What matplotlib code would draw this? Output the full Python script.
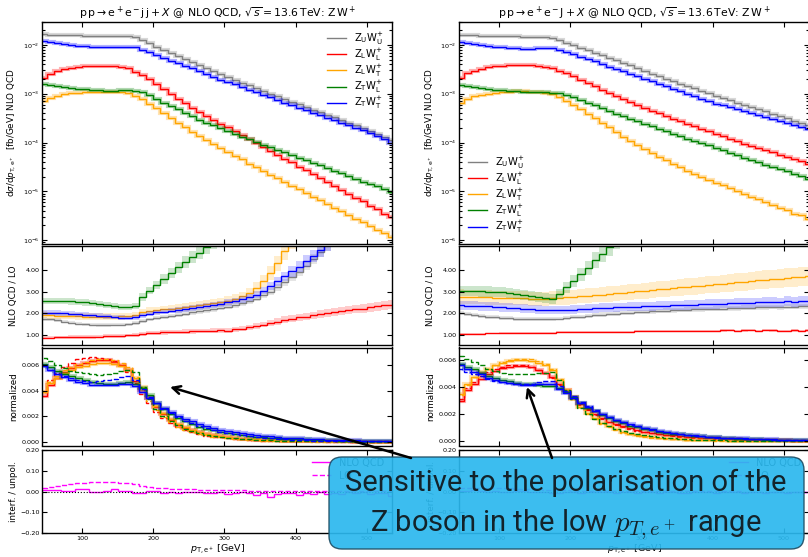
import numpy as np
import matplotlib.pyplot as plt
from matplotlib.patches import FancyBboxPatch

# bin edges in p_T,e+ [GeV], 10 GeV bins
pt_edges = list(range(40, 550, 10))

pol_labels = [r'$\mathrm{Z_{U}W_{U}^{+}}$', r'$\mathrm{Z_{L}W_{L}^{+}}$', r'$\mathrm{Z_{L}W_{T}^{+}}$',
              r'$\mathrm{Z_{T}W_{L}^{+}}$', r'$\mathrm{Z_{T}W_{T}^{+}}$']
pol_colors = ['gray', 'red', 'orange', 'green', 'blue']

# ---- left: e+ e- j j ----
nlo_jj_uu = [1.65e-2, 1.63e-2, 1.61e-2, 1.59e-2, 1.58e-2, 1.57e-2, 1.56e-2, 1.55e-2, 1.55e-2, 1.55e-2,
             1.54e-2, 1.53e-2, 1.50e-2, 1.44e-2, 1.27e-2, 1.08e-2, 9.2e-3, 7.9e-3, 6.8e-3, 5.9e-3,
             5.1e-3, 4.4e-3, 3.8e-3, 3.3e-3, 2.9e-3, 2.5e-3, 2.2e-3, 1.9e-3, 1.7e-3, 1.48e-3,
             1.30e-3, 1.15e-3, 1.0e-3, 8.9e-4, 7.8e-4, 6.9e-4, 6.1e-4, 5.4e-4, 4.7e-4, 4.2e-4,
             3.7e-4, 3.3e-4, 2.9e-4, 2.55e-4, 2.25e-4, 2.0e-4, 1.75e-4, 1.52e-4, 1.3e-4, 1.12e-4]
nlo_jj_ll = [2.1e-3, 2.6e-3, 2.95e-3, 3.2e-3, 3.4e-3, 3.55e-3, 3.65e-3, 3.72e-3, 3.75e-3, 3.75e-3,
             3.7e-3, 3.55e-3, 3.3e-3, 2.82e-3, 2.4e-3, 2.0e-3, 1.58e-3, 1.26e-3, 1.0e-3, 7.9e-4,
             6.5e-4, 5.2e-4, 4.3e-4, 3.5e-4, 2.95e-4, 2.45e-4, 2.04e-4, 1.7e-4, 1.41e-4, 1.17e-4,
             9.8e-5, 8.1e-5, 6.8e-5, 5.6e-5, 4.7e-5, 3.9e-5, 3.2e-5, 2.7e-5, 2.24e-5, 1.86e-5,
             1.55e-5, 1.29e-5, 1.07e-5, 8.9e-6, 7.4e-6, 6.2e-6, 5.1e-6, 4.3e-6, 3.5e-6, 3.0e-6]
nlo_jj_lt = [7.1e-4, 8.3e-4, 9.1e-4, 9.8e-4, 1.02e-3, 1.06e-3, 1.08e-3, 1.10e-3, 1.11e-3, 1.11e-3,
             1.10e-3, 1.07e-3, 1.02e-3, 9.1e-4, 7.8e-4, 6.3e-4, 5.0e-4, 4.0e-4, 3.16e-4, 2.5e-4,
             2.04e-4, 1.66e-4, 1.35e-4, 1.12e-4, 9.3e-5, 7.8e-5, 6.5e-5, 5.4e-5, 4.5e-5, 3.7e-5,
             3.1e-5, 2.6e-5, 2.2e-5, 1.84e-5, 1.55e-5, 1.3e-5, 1.1e-5, 9.2e-6, 7.8e-6, 6.5e-6,
             5.5e-6, 4.6e-6, 3.9e-6, 3.3e-6, 2.75e-6, 2.3e-6, 1.95e-6, 1.64e-6, 1.38e-6, 1.16e-6]
nlo_jj_tl = [1.55e-3, 1.48e-3, 1.41e-3, 1.35e-3, 1.30e-3, 1.26e-3, 1.23e-3, 1.20e-3, 1.17e-3, 1.16e-3,
             1.16e-3, 1.17e-3, 1.19e-3, 1.16e-3, 1.07e-3, 9.3e-4, 7.8e-4, 6.6e-4, 5.6e-4, 4.8e-4,
             4.1e-4, 3.5e-4, 2.95e-4, 2.57e-4, 2.24e-4, 1.95e-4, 1.7e-4, 1.51e-4, 1.32e-4, 1.17e-4,
             1.02e-4, 9.1e-5, 8.1e-5, 7.1e-5, 6.3e-5, 5.5e-5, 4.9e-5, 4.4e-5, 3.8e-5, 3.4e-5,
             2.95e-5, 2.6e-5, 2.35e-5, 2.04e-5, 1.82e-5, 1.58e-5, 1.41e-5, 1.26e-5, 1.1e-5, 9.8e-6]
nlo_jj_tt = [1.22e-2, 1.15e-2, 1.09e-2, 1.04e-2, 1.0e-2, 9.7e-3, 9.4e-3, 9.2e-3, 9.1e-3, 9.1e-3,
             9.2e-3, 9.3e-3, 9.3e-3, 9.0e-3, 8.0e-3, 7.1e-3, 6.3e-3, 5.5e-3, 4.8e-3, 4.2e-3,
             3.7e-3, 3.3e-3, 2.9e-3, 2.55e-3, 2.25e-3, 1.95e-3, 1.75e-3, 1.55e-3, 1.37e-3, 1.2e-3,
             1.07e-3, 9.5e-4, 8.4e-4, 7.5e-4, 6.6e-4, 5.9e-4, 5.2e-4, 4.6e-4, 4.1e-4, 3.65e-4,
             3.25e-4, 2.9e-4, 2.55e-4, 2.25e-4, 2.0e-4, 1.78e-4, 1.55e-4, 1.37e-4, 1.2e-4, 9.8e-5]

# NLO QCD / LO
k_jj_uu = [1.75, 1.72, 1.68, 1.62, 1.57, 1.53, 1.50, 1.48, 1.46, 1.46, 1.47, 1.48, 1.50, 1.55,
           1.65, 1.72, 1.78, 1.84, 1.89, 1.94, 1.99, 2.04, 2.09, 2.14, 2.19, 2.25,
           2.31, 2.38, 2.46, 2.56, 2.68, 2.83, 3.00, 3.20, 3.42, 3.66,
           3.92, 4.20, 4.50, 4.82, 5.15, 5.5, 5.85, 6.2, 6.6, 7.0, 7.4, 7.8, 8.2, 8.6]
k_jj_ll = [0.88, 0.88, 0.89, 0.89, 0.90, 0.90, 0.91, 0.92, 0.93, 0.94, 0.95, 0.96, 0.98, 1.00,
           1.04, 1.08, 1.10, 1.12, 1.14, 1.15, 1.16, 1.17, 1.18, 1.19, 1.20, 1.22,
           1.20, 1.26, 1.30, 1.35, 1.42, 1.48, 1.55, 1.62, 1.70, 1.76,
           1.82, 1.84, 1.90, 1.96, 2.00, 2.05, 2.10, 2.14, 2.20, 2.22, 2.28, 2.32, 2.37, 2.40]
k_jj_lt = [1.93, 1.91, 1.89, 1.88, 1.87, 1.86, 1.85, 1.85, 1.85, 1.85, 1.85, 1.86, 1.88, 1.92,
           2.05, 2.10, 2.14, 2.18, 2.22, 2.26, 2.30, 2.34, 2.38, 2.42, 2.47, 2.52,
           2.58, 2.67, 2.78, 2.95, 3.18, 3.50, 3.85, 4.30, 4.85, 5.4,
           6.0, 6.6, 7.2, 7.8, 8.4, 9.0, 9.6, 10.2, 10.8, 11.4, 12.0, 12.6, 13.2, 13.8]
k_jj_tl = [2.57, 2.57, 2.57, 2.56, 2.55, 2.53, 2.50, 2.47, 2.43, 2.39, 2.35, 2.31, 2.30, 2.33,
           2.75, 3.05, 3.30, 3.58, 3.85, 4.12, 4.36, 4.58, 4.80, 5.05, 5.3, 5.6,
           5.9, 6.2, 6.5, 6.9, 7.3, 7.7, 8.1, 8.6, 9.1, 9.6,
           10.1, 10.7, 11.3, 11.9, 12.5, 13.1, 13.8, 14.5, 15.2, 15.9, 16.6, 17.3, 18.0, 18.8]
k_jj_tt = [2.03, 2.02, 2.01, 2.00, 1.98, 1.96, 1.94, 1.92, 1.89, 1.86, 1.83, 1.80, 1.79, 1.82,
           1.92, 1.99, 2.04, 2.08, 2.12, 2.16, 2.20, 2.24, 2.28, 2.32, 2.37, 2.43,
           2.50, 2.56, 2.64, 2.74, 2.86, 3.05, 3.25, 3.47, 3.70, 3.93,
           4.15, 4.40, 4.65, 4.90, 5.2, 5.5, 5.8, 6.1, 6.4, 6.7, 7.0, 7.3, 7.6, 7.9]
band_jj = [0.05, 0.09, 0.08, 0.06, 0.06]

# interference / unpolarised
int_jj_nlo = [0.008, 0.008, 0.006, 0.003, 0.003, 0.012, 0.012, -0.002, -0.004, 0.003,
              0.010, 0.004, 0.003, -0.008, -0.006, 0.002, 0.003, -0.007, -0.004, -0.005,
              -0.003, -0.004, -0.002, -0.006, -0.005, -0.004, -0.012, -0.005, -0.003, -0.008,
              -0.019, -0.006, -0.027, -0.010, -0.008, -0.006, -0.018, -0.007, -0.010, -0.004,
              -0.012, -0.006, -0.010, -0.003, -0.008, -0.004, -0.012, -0.005, -0.006, -0.020]
int_jj_lo = [0.017, 0.022, 0.028, 0.033, 0.037, 0.040, 0.042, 0.044, 0.045, 0.046,
             0.045, 0.043, 0.040, 0.035, 0.028, 0.022, 0.018, 0.016, 0.014, 0.012,
             0.011, 0.010, 0.009, 0.008, 0.007, 0.006, 0.006, 0.005, 0.005, 0.004,
             0.004, 0.004, 0.003, 0.003, 0.003, 0.003, 0.003, 0.002, 0.002, 0.002,
             0.002, 0.002, 0.002, 0.001, 0.001, 0.001, 0.001, 0.001, 0.001, 0.001]

# ---- right: e+ e- J ----
nlo_J_uu = [1.60e-2, 1.58e-2, 1.57e-2, 1.55e-2, 1.53e-2, 1.51e-2, 1.51e-2, 1.50e-2, 1.50e-2, 1.48e-2,
            1.48e-2, 1.48e-2, 1.45e-2, 1.38e-2, 1.26e-2, 1.12e-2, 1.0e-2, 8.8e-3, 7.8e-3, 6.9e-3,
            6.2e-3, 5.5e-3, 4.9e-3, 4.3e-3, 3.8e-3, 3.4e-3, 2.95e-3, 2.6e-3, 2.35e-3, 2.04e-3,
            1.82e-3, 1.62e-3, 1.45e-3, 1.29e-3, 1.15e-3, 1.02e-3, 9.1e-4, 8.1e-4, 7.4e-4, 6.6e-4,
            5.9e-4, 5.4e-4, 4.8e-4, 4.4e-4, 3.9e-4, 3.5e-4, 3.16e-4, 2.8e-4, 2.57e-4, 2.3e-4]
nlo_J_ll = [2.1e-3, 2.63e-3, 2.95e-3, 3.24e-3, 3.47e-3, 3.63e-3, 3.76e-3, 3.85e-3, 3.9e-3, 3.9e-3,
            3.85e-3, 3.7e-3, 3.55e-3, 3.3e-3, 2.95e-3, 2.63e-3, 2.3e-3, 1.95e-3, 1.66e-3, 1.41e-3,
            1.2e-3, 1.02e-3, 8.9e-4, 7.8e-4, 6.8e-4, 5.9e-4, 5.1e-4, 4.5e-4, 4.0e-4, 3.5e-4,
            3.1e-4, 2.7e-4, 2.4e-4, 2.14e-4, 1.9e-4, 1.7e-4, 1.51e-4, 1.35e-4, 1.2e-4, 1.07e-4,
            9.5e-5, 8.5e-5, 7.8e-5, 6.9e-5, 6.3e-5, 5.6e-5, 5.1e-5, 4.6e-5, 4.2e-5, 3.7e-5]
nlo_J_lt = [6.5e-4, 7.9e-4, 8.9e-4, 9.5e-4, 1.0e-3, 1.05e-3, 1.08e-3, 1.11e-3, 1.12e-3, 1.12e-3,
            1.11e-3, 1.08e-3, 1.05e-3, 9.8e-4, 8.5e-4, 7.1e-4, 5.9e-4, 4.8e-4, 3.9e-4, 3.16e-4,
            2.57e-4, 2.1e-4, 1.66e-4, 1.32e-4, 1.07e-4, 8.7e-5, 7.2e-5, 6.0e-5, 5.0e-5, 4.3e-5,
            3.6e-5, 3.1e-5, 2.6e-5, 2.3e-5, 2.0e-5, 1.74e-5, 1.51e-5, 1.32e-5, 1.15e-5, 1.0e-5,
            8.7e-6, 7.6e-6, 6.8e-6, 5.9e-6, 5.2e-6, 4.6e-6, 4.1e-6, 3.5e-6, 3.2e-6, 2.75e-6]
nlo_J_tl = [1.48e-3, 1.43e-3, 1.38e-3, 1.32e-3, 1.26e-3, 1.22e-3, 1.17e-3, 1.15e-3, 1.12e-3, 1.11e-3,
            1.10e-3, 1.08e-3, 1.07e-3, 1.06e-3, 1.02e-3, 9.5e-4, 8.5e-4, 7.4e-4, 6.5e-4, 5.75e-4,
            5.1e-4, 4.5e-4, 3.9e-4, 3.5e-4, 3.0e-4, 2.7e-4, 2.4e-4, 2.14e-4, 1.9e-4, 1.7e-4,
            1.51e-4, 1.35e-4, 1.2e-4, 1.07e-4, 9.8e-5, 8.7e-5, 7.8e-5, 6.9e-5, 6.2e-5, 5.5e-5,
            4.9e-5, 4.4e-5, 4.0e-5, 3.5e-5, 3.2e-5, 2.9e-5, 2.6e-5, 2.3e-5, 2.04e-5, 1.82e-5]
nlo_J_tt = [1.135e-2, 1.08e-2, 1.035e-2, 1.0e-2, 9.5e-3, 9.2e-3, 8.9e-3, 8.7e-3, 8.5e-3, 8.4e-3,
            8.4e-3, 8.5e-3, 8.6e-3, 8.5e-3, 7.9e-3, 7.2e-3, 6.5e-3, 5.75e-3, 5.1e-3, 4.6e-3,
            4.1e-3, 3.6e-3, 3.2e-3, 2.9e-3, 2.57e-3, 2.3e-3, 2.04e-3, 1.82e-3, 1.6e-3, 1.41e-3,
            1.26e-3, 1.12e-3, 1.0e-3, 8.9e-4, 7.9e-4, 7.1e-4, 6.3e-4, 5.75e-4, 5.25e-4, 4.8e-4,
            4.4e-4, 4.0e-4, 3.6e-4, 3.3e-4, 3.0e-4, 2.75e-4, 2.5e-4, 2.3e-4, 2.1e-4, 1.9e-4]

k_J_uu = [2.00, 1.97, 1.93, 1.89, 1.85, 1.82, 1.79, 1.77, 1.75, 1.74, 1.73, 1.73, 1.73, 1.74,
          1.76, 1.79, 1.82, 1.85, 1.88, 1.91, 1.94, 1.97, 1.99, 2.01, 2.03, 2.05,
          2.07, 2.09, 2.11, 2.12, 2.13, 2.15, 2.16, 2.18, 2.19, 2.20,
          2.21, 2.22, 2.23, 2.24, 2.25, 2.25, 2.27, 2.28, 2.29, 2.27, 2.31, 2.30, 2.33, 2.32]
k_J_ll = [1.05, 1.05, 1.06, 1.06, 1.07, 1.07, 1.08, 1.08, 1.09, 1.09, 1.10, 1.10, 1.11, 1.11,
          1.12, 1.12, 1.13, 1.13, 1.14, 1.14, 1.15, 1.15, 1.16, 1.16, 1.16, 1.17,
          1.17, 1.17, 1.18, 1.18, 1.18, 1.19, 1.19, 1.19, 1.20, 1.20,
          1.20, 1.21, 1.23, 1.20, 1.21, 1.22, 1.20, 1.22, 1.21, 1.19, 1.17, 1.21, 1.20, 1.21]
k_J_lt = [2.77, 2.76, 2.75, 2.74, 2.73, 2.72, 2.71, 2.70, 2.69, 2.69, 2.68, 2.68, 2.68, 2.69,
          2.71, 2.73, 2.76, 2.79, 2.81, 2.84, 2.86, 2.89, 2.92, 2.95, 2.98, 3.01,
          3.04, 3.07, 3.10, 3.13, 3.16, 3.19, 3.22, 3.25, 3.28, 3.31,
          3.34, 3.37, 3.40, 3.43, 3.46, 3.49, 3.52, 3.55, 3.58, 3.60, 3.63, 3.66, 3.68, 3.71]
k_J_tl = [3.02, 3.02, 3.02, 3.01, 3.00, 2.99, 2.97, 2.94, 2.90, 2.86, 2.81, 2.75, 2.70, 2.66,
          2.90, 3.20, 3.50, 3.80, 4.10, 4.45, 4.75, 5.05, 5.4, 5.7, 6.0, 6.4,
          6.8, 7.2, 7.6, 8.0, 8.5, 9.0, 9.5, 10.0, 10.5, 11.1,
          11.7, 12.3, 12.9, 13.5, 14.1, 14.7, 15.3, 15.9, 16.5, 17.1, 17.7, 18.3, 18.9, 19.5]
k_J_tt = [2.36, 2.35, 2.34, 2.33, 2.32, 2.30, 2.28, 2.26, 2.24, 2.22, 2.20, 2.17, 2.15, 2.14,
          2.14, 2.15, 2.17, 2.19, 2.21, 2.23, 2.25, 2.26, 2.28, 2.29, 2.30, 2.31,
          2.32, 2.33, 2.34, 2.35, 2.36, 2.37, 2.39, 2.40, 2.41, 2.43,
          2.44, 2.45, 2.46, 2.47, 2.48, 2.49, 2.50, 2.51, 2.52, 2.50, 2.55, 2.53, 2.57, 2.56]
band_J = [0.05, 0.04, 0.12, 0.08, 0.09]

int_J_nlo = [0.004, 0.002, 0.005, 0.001, -0.002, 0.003, 0.0, -0.003, 0.002, 0.001,
             -0.002, 0.0, -0.004, -0.009, -0.008, -0.003, -0.002, -0.005, -0.003, 0.0,
             -0.004, -0.002, -0.006, -0.003, -0.001, -0.005, -0.004, -0.002, -0.007, -0.003,
             -0.002, -0.005, -0.006, -0.001, -0.004, -0.003, -0.008, -0.002, -0.004, -0.003,
             -0.006, -0.002, -0.003, -0.007, -0.004, -0.002, -0.005, -0.003, -0.004, -0.003]
int_J_lo = [0.016, 0.017, 0.018, 0.018, 0.018, 0.017, 0.016, 0.015, 0.013, 0.012,
            0.011, 0.010, 0.009, 0.008, 0.006, 0.005, 0.004, 0.004, 0.003, 0.003,
            0.003, 0.003, 0.002, 0.002, 0.002, 0.002, 0.002, 0.002, 0.001, 0.001,
            0.001, 0.001, 0.001, 0.001, 0.001, 0.001, 0.001, 0.001, 0.001, 0.001,
            0.0, 0.0, 0.0, 0.0, 0.0, 0.0, 0.0, 0.0, 0.0, 0.0]

W, H = 808, 557
fig = plt.figure(figsize=(W / 100, H / 100), dpi=100)
edges = np.array(pt_edges)
width = np.diff(edges)


def px_axes(x0, y0, x1, y1):
    # axes box given in pixels from the top-left corner
    return fig.add_axes([x0 / W, 1 - y1 / H, (x1 - x0) / W, (y1 - y0) / H])


def style(ax, labels=False):
    ax.set_xlim(44, 536)
    ax.set_xticks([100, 200, 300, 400, 500])
    ax.tick_params(which='both', direction='in', top=True, right=True, labelsize=4.6,
                   length=3.5, width=0.8, pad=2, labelbottom=labels)
    ax.tick_params(which='minor', length=2)
    for s in ax.spines.values():
        s.set_linewidth(1.0)


def draw_column(x0, title, nlo, kfac, band, int_nlo, int_lo, top_legend):
    x1 = x0 + 350
    ax1 = px_axes(x0, 21.7, x1, 244)
    ax2 = px_axes(x0, 246, x1, 345)
    ax3 = px_axes(x0, 347.5, x1, 445.5)
    ax4 = px_axes(x0, 450, x1, 533)

    # absolute distributions
    for v, c, lab in zip(nlo, pol_colors, pol_labels):
        ax1.stairs(v, edges, color=c, lw=3, alpha=0.3)
        ax1.stairs(v, edges, color=c, lw=1.0, label=lab)
    ax1.set_yscale('log')
    ax1.set_ylim(8.3e-7, 3.0e-2)
    ax1.set_title(title, fontsize=7.8, pad=4)
    ax1.set_ylabel(r'd$\sigma$/d$p_{\mathrm{T,e^+}}$  [fb/GeV] NLO QCD', fontsize=6.3)
    style(ax1)
    if top_legend == 'ur':
        ax1.legend(loc='upper right', fontsize=7.2, frameon=False, handlelength=1.9,
                   labelspacing=0.0, borderaxespad=0.5)
    else:
        ax1.legend(loc='lower left', fontsize=7.2, frameon=False, handlelength=1.9,
                   labelspacing=0.0, borderaxespad=0.5)

    # K-factors with scale bands
    for k, b, c in zip(kfac, band, pol_colors):
        k = np.array(k)
        ax2.stairs(k * (1 + b), edges, baseline=k * (1 - b), fill=True, color=c, alpha=0.2, lw=0)
        ax2.stairs(k, edges, color=c, lw=1.0)
    ax2.set_ylim(0.54, 5.1)
    ax2.set_yticks([1, 2, 3, 4])
    ax2.yaxis.set_major_formatter('{x:.2f}')
    ax2.set_ylabel('NLO QCD / LO', fontsize=6.3)
    style(ax2)

    # normalised shapes, NLO solid and LO dashed (polarised only)
    for v, k, c in zip(nlo[1:], kfac[1:], pol_colors[1:]):
        v = np.array(v)
        lo = v / np.array(k)
        ax3.stairs(lo / np.sum(lo * width), edges, color=c, lw=1.0, ls='--')
        ax3.stairs(v / np.sum(v * width), edges, color=c, lw=3, alpha=0.3)
        ax3.stairs(v / np.sum(v * width), edges, color=c, lw=1.0)
    ax3.set_ylim(-0.0003, 0.0074 if top_legend == 'ur' else 0.0069)
    ax3.set_yticks([0, 0.002, 0.004, 0.006])
    ax3.yaxis.set_major_formatter('{x:.3f}')
    ax3.set_ylabel('normalized', fontsize=6.3)
    style(ax3)

    # interference
    ax4.axhline(0, color='black', lw=0.8, ls=':')
    ax4.stairs(int_nlo, edges, color='magenta', lw=1.0, label='NLO QCD')
    ax4.stairs(int_lo, edges, color='magenta', lw=1.0, ls='--', label='LO')
    ax4.set_ylim(-0.2, 0.2)
    ax4.set_yticks([-0.2, -0.1, 0, 0.1, 0.2])
    ax4.yaxis.set_major_formatter('{x:.2f}')
    ax4.set_ylabel('interf. / unpol.', fontsize=6.3)
    ax4.set_xlabel(r'$p_{\mathrm{T,e^+}}$ [GeV]', fontsize=6.8, labelpad=1)
    ax4.legend(loc='upper right', fontsize=7, frameon=False, handlelength=2.0,
               labelspacing=0.3, borderaxespad=0.4)
    style(ax4, labels=True)

    for ax in (ax1, ax2, ax3, ax4):
        ax.yaxis.set_label_coords(-0.068, 0.5)


draw_column(42.3, r'$\mathrm{p\,p \to e^+e^-j\,j}+X$ @ NLO QCD, $\sqrt{s}=13.6\,$TeV: $\mathrm{Z\,W^+}$',
            [nlo_jj_uu, nlo_jj_ll, nlo_jj_lt, nlo_jj_tl, nlo_jj_tt],
            [k_jj_uu, k_jj_ll, k_jj_lt, k_jj_tl, k_jj_tt], band_jj, int_jj_nlo, int_jj_lo, 'ur')
draw_column(459.3, r'$\mathrm{p\,p \to e^+e^-J}+X$ @ NLO QCD, $\sqrt{s}=13.6\,$TeV: $\mathrm{Z\,W^+}$',
            [nlo_J_uu, nlo_J_ll, nlo_J_lt, nlo_J_tl, nlo_J_tt],
            [k_J_uu, k_J_ll, k_J_lt, k_J_tl, k_J_tt], band_J, int_J_nlo, int_J_lo, 'll')

# slide overlay: arrows and the blue call-out box
ov = fig.add_axes([0, 0, 1, 1])
ov.set_xlim(0, W)
ov.set_ylim(H, 0)
ov.axis('off')
arrow = dict(arrowstyle='->', lw=1.8, color='black', mutation_scale=14, shrinkA=0, shrinkB=0)
ov.annotate('', xy=(170, 387), xytext=(411, 458), arrowprops=arrow)
ov.annotate('', xy=(527, 387), xytext=(552, 458), arrowprops=arrow)
box = FancyBboxPatch((329, 457), 475, 92, boxstyle='round,pad=0,rounding_size=13',
                     facecolor='#2bb8ee', edgecolor='#1f4f66', lw=1.0, alpha=0.92)
ov.add_patch(box)
ov.text(566, 491, 'Sensitive to the polarisation of the', ha='center', va='baseline',
        fontsize=21, family='Roboto', color='#13232b')
ov.text(566, 531, r'Z boson in the low $p_{T,e^+}$ range', ha='center', va='baseline',
        fontsize=21, family='Roboto', color='#13232b', math_fontfamily='cm')

fig.savefig('out.png', dpi=100)
